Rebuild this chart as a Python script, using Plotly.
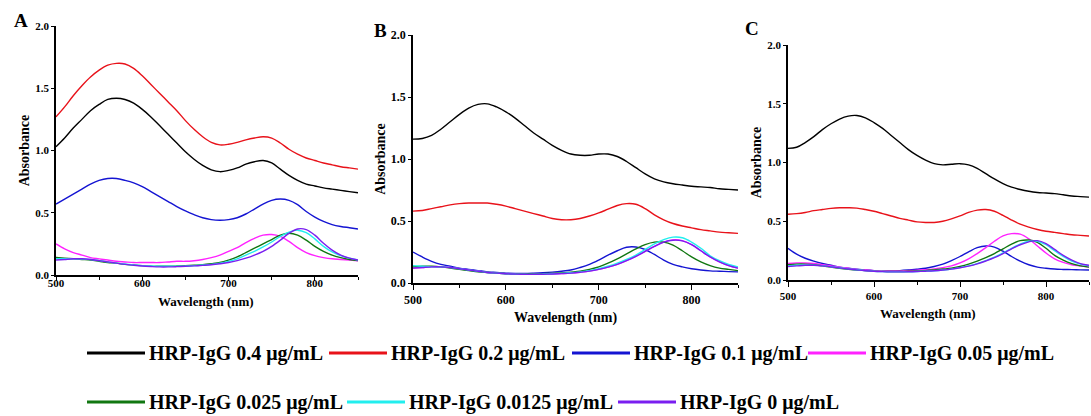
import plotly.graph_objects as go

W, H = 1091, 416

wavelength = list(range(500, 851, 10))

labels = ["HRP-IgG 0.4 μg/mL", "HRP-IgG 0.2 μg/mL", "HRP-IgG 0.1 μg/mL", "HRP-IgG 0.05 μg/mL",
          "HRP-IgG 0.025 μg/mL", "HRP-IgG 0.0125 μg/mL", "HRP-IgG 0 μg/mL"]
colors = ["#000000", "#e8121a", "#1414d2", "#ff22ff", "#117711", "#22eeee", "#7a1ef0"]

# ---------------- Panel A ----------------
A_04 = [1.03, 1.10, 1.18, 1.25, 1.32, 1.37, 1.41, 1.42, 1.41, 1.38, 1.33, 1.27, 1.20, 1.13, 1.06, 0.99, 0.93, 0.88,
        0.845, 0.83, 0.84, 0.86, 0.89, 0.91, 0.92, 0.90, 0.85, 0.80, 0.76, 0.73, 0.715, 0.70, 0.69, 0.68, 0.67, 0.66]
A_02 = [1.27, 1.35, 1.44, 1.52, 1.59, 1.645, 1.685, 1.70, 1.695, 1.66, 1.60, 1.53, 1.46, 1.39, 1.32, 1.24, 1.17, 1.11,
        1.065, 1.045, 1.05, 1.065, 1.085, 1.10, 1.11, 1.10, 1.06, 1.01, 0.97, 0.94, 0.92, 0.90, 0.885, 0.87, 0.86, 0.85]
A_01 = [0.57, 0.61, 0.65, 0.69, 0.73, 0.76, 0.775, 0.775, 0.76, 0.74, 0.71, 0.67, 0.63, 0.59, 0.55, 0.515, 0.485, 0.46,
        0.445, 0.44, 0.445, 0.46, 0.49, 0.53, 0.57, 0.60, 0.61, 0.60, 0.565, 0.51, 0.465, 0.43, 0.405, 0.39, 0.38, 0.37]
A_005 = [0.25, 0.21, 0.18, 0.16, 0.14, 0.13, 0.12, 0.11, 0.105, 0.10, 0.10, 0.10, 0.10, 0.105, 0.11, 0.11, 0.115, 0.125,
         0.14, 0.16, 0.19, 0.22, 0.26, 0.295, 0.32, 0.325, 0.31, 0.27, 0.22, 0.18, 0.155, 0.14, 0.13, 0.125, 0.12, 0.115]
A_0025 = [0.14, 0.135, 0.13, 0.125, 0.12, 0.11, 0.10, 0.095, 0.085, 0.08, 0.075, 0.07, 0.07, 0.07, 0.072, 0.075, 0.078,
          0.082, 0.09, 0.10, 0.12, 0.145, 0.18, 0.215, 0.25, 0.285, 0.32, 0.335, 0.32, 0.28, 0.23, 0.19, 0.16, 0.14, 0.125, 0.115]
A_00125 = [0.13, 0.13, 0.13, 0.128, 0.125, 0.115, 0.105, 0.095, 0.088, 0.08, 0.075, 0.072, 0.07, 0.07, 0.07, 0.072, 0.075,
           0.08, 0.085, 0.095, 0.11, 0.13, 0.16, 0.19, 0.225, 0.265, 0.31, 0.345, 0.36, 0.34, 0.29, 0.23, 0.185, 0.155, 0.135, 0.12]
A_0 = [0.12, 0.125, 0.13, 0.13, 0.125, 0.115, 0.105, 0.095, 0.085, 0.078, 0.072, 0.068, 0.065, 0.065, 0.067, 0.07, 0.073,
       0.077, 0.082, 0.09, 0.10, 0.115, 0.135, 0.16, 0.19, 0.23, 0.28, 0.335, 0.37, 0.365, 0.32, 0.255, 0.20, 0.16, 0.135, 0.12]

# ---------------- Panel B ----------------
B_04 = [1.16, 1.165, 1.19, 1.24, 1.30, 1.36, 1.41, 1.44, 1.445, 1.42, 1.38, 1.33, 1.27, 1.21, 1.16, 1.11, 1.07, 1.04,
        1.03, 1.03, 1.04, 1.04, 1.02, 0.98, 0.93, 0.88, 0.84, 0.815, 0.80, 0.79, 0.78, 0.775, 0.77, 0.76, 0.755, 0.75]
B_02 = [0.58, 0.585, 0.60, 0.615, 0.63, 0.64, 0.645, 0.645, 0.645, 0.635, 0.62, 0.60, 0.58, 0.56, 0.54, 0.52, 0.51, 0.51,
        0.52, 0.54, 0.565, 0.595, 0.625, 0.64, 0.635, 0.60, 0.55, 0.51, 0.48, 0.46, 0.445, 0.43, 0.42, 0.41, 0.405, 0.40]
B_01 = [0.25, 0.21, 0.175, 0.15, 0.135, 0.12, 0.11, 0.10, 0.09, 0.085, 0.08, 0.078, 0.078, 0.08, 0.083, 0.088, 0.095, 0.105,
        0.125, 0.15, 0.185, 0.225, 0.26, 0.288, 0.29, 0.27, 0.23, 0.185, 0.15, 0.13, 0.115, 0.105, 0.098, 0.095, 0.092, 0.09]
B_005 = [0.12, 0.125, 0.13, 0.13, 0.125, 0.115, 0.105, 0.095, 0.085, 0.08, 0.075, 0.072, 0.07, 0.07, 0.071, 0.073, 0.076,
         0.08, 0.087, 0.096, 0.11, 0.128, 0.15, 0.18, 0.215, 0.255, 0.295, 0.33, 0.348, 0.342, 0.31, 0.26, 0.21, 0.17, 0.14, 0.12]
B_0025 = [0.13, 0.135, 0.135, 0.13, 0.12, 0.11, 0.10, 0.09, 0.085, 0.08, 0.075, 0.073, 0.073, 0.074, 0.076, 0.078, 0.082,
          0.088, 0.095, 0.11, 0.13, 0.16, 0.195, 0.235, 0.275, 0.31, 0.33, 0.33, 0.305, 0.26, 0.21, 0.17, 0.14, 0.12, 0.11, 0.10]
B_00125 = [0.14, 0.135, 0.13, 0.13, 0.125, 0.115, 0.105, 0.095, 0.085, 0.08, 0.075, 0.072, 0.07, 0.07, 0.072, 0.075, 0.078,
           0.083, 0.09, 0.10, 0.115, 0.135, 0.16, 0.19, 0.225, 0.27, 0.315, 0.35, 0.37, 0.365, 0.33, 0.28, 0.22, 0.18, 0.15, 0.13]
B_0 = [0.12, 0.125, 0.13, 0.13, 0.125, 0.115, 0.105, 0.095, 0.085, 0.08, 0.075, 0.072, 0.07, 0.07, 0.071, 0.073, 0.076,
       0.08, 0.087, 0.096, 0.11, 0.128, 0.15, 0.18, 0.215, 0.255, 0.295, 0.33, 0.345, 0.34, 0.31, 0.26, 0.21, 0.17, 0.14, 0.12]

# ---------------- Panel C ----------------
C_04 = [1.12, 1.13, 1.17, 1.22, 1.28, 1.33, 1.37, 1.395, 1.40, 1.38, 1.34, 1.29, 1.23, 1.17, 1.11, 1.06, 1.02, 0.99,
        0.98, 0.985, 0.99, 0.98, 0.95, 0.905, 0.86, 0.82, 0.79, 0.77, 0.755, 0.745, 0.74, 0.735, 0.725, 0.715, 0.71, 0.705]
C_02 = [0.56, 0.565, 0.575, 0.59, 0.60, 0.61, 0.615, 0.615, 0.612, 0.60, 0.585, 0.565, 0.545, 0.525, 0.51, 0.495, 0.49,
        0.49, 0.50, 0.52, 0.545, 0.575, 0.595, 0.60, 0.585, 0.55, 0.51, 0.475, 0.45, 0.43, 0.415, 0.405, 0.395, 0.385, 0.38, 0.375]
C_01 = [0.27, 0.22, 0.185, 0.16, 0.14, 0.125, 0.11, 0.10, 0.092, 0.085, 0.08, 0.078, 0.078, 0.08, 0.085, 0.092, 0.10,
        0.115, 0.135, 0.165, 0.20, 0.24, 0.275, 0.29, 0.28, 0.245, 0.20, 0.16, 0.13, 0.11, 0.10, 0.093, 0.09, 0.088, 0.086, 0.085]
C_005 = [0.14, 0.145, 0.145, 0.14, 0.13, 0.12, 0.11, 0.10, 0.09, 0.085, 0.08, 0.078, 0.077, 0.078, 0.08, 0.083, 0.088,
         0.095, 0.105, 0.12, 0.145, 0.18, 0.225, 0.275, 0.33, 0.375, 0.395, 0.39, 0.35, 0.29, 0.23, 0.18, 0.15, 0.13, 0.12, 0.11]
C_0025 = [0.13, 0.135, 0.135, 0.13, 0.12, 0.11, 0.10, 0.092, 0.085, 0.08, 0.075, 0.073, 0.072, 0.072, 0.074, 0.077, 0.08,
          0.086, 0.093, 0.10, 0.115, 0.135, 0.16, 0.19, 0.225, 0.265, 0.305, 0.335, 0.34, 0.32, 0.27, 0.21, 0.17, 0.14, 0.12, 0.11]
C_00125 = [0.12, 0.125, 0.128, 0.127, 0.122, 0.113, 0.104, 0.095, 0.087, 0.08, 0.075, 0.072, 0.07, 0.07, 0.07, 0.072, 0.075,
           0.079, 0.085, 0.093, 0.105, 0.12, 0.14, 0.165, 0.195, 0.23, 0.27, 0.305, 0.33, 0.33, 0.30, 0.25, 0.20, 0.16, 0.135, 0.12]
C_0 = [0.115, 0.12, 0.125, 0.125, 0.12, 0.112, 0.103, 0.094, 0.086, 0.079, 0.074, 0.071, 0.069, 0.069, 0.07, 0.072, 0.075,
       0.079, 0.085, 0.093, 0.104, 0.118, 0.137, 0.162, 0.19, 0.225, 0.265, 0.30, 0.325, 0.335, 0.31, 0.26, 0.21, 0.17, 0.14, 0.125]

panels = [
    ("A", [A_04, A_02, A_01, A_005, A_0025, A_00125, A_0]),
    ("B", [B_04, B_02, B_01, B_005, B_0025, B_00125, B_0]),
    ("C", [C_04, C_02, C_01, C_005, C_0025, C_00125, C_0]),
]

# pixel boxes of the plot areas: (left, right, top, bottom)
boxes = [(56, 358, 26, 275), (413, 738, 35, 283), (788, 1089, 45, 280)]
tick_sizes = [11, 12, 11]
xlabel_standoff = [-7, 0, 0]
xtick_len = [4, 5, 5]
letter_pos = [(21, 20), (380, 31), (752, 29)]
xtitle_pos = [(206, 301, 13), (565, 318, 14), (928, 313, 13)]

FONT = "Liberation Serif, Times New Roman, serif"

def px_x(x):
    return x / W

def px_y(y):
    return 1 - y / H

fig = go.Figure()

for i, (name, series) in enumerate(panels):
    xa = "x" if i == 0 else f"x{i+1}"
    ya = "y" if i == 0 else f"y{i+1}"
    for k, vals in enumerate(series):
        fig.add_trace(go.Scatter(
            x=wavelength, y=vals, mode="lines", name=labels[k],
            line=dict(color=colors[k], width=1.4, shape="spline", smoothing=1.0),
            xaxis=xa, yaxis=ya, showlegend=False))

    l, r, t, b = boxes[i]
    ts = tick_sizes[i]
    xkey = "xaxis" if i == 0 else f"xaxis{i+1}"
    ykey = "yaxis" if i == 0 else f"yaxis{i+1}"
    fig.update_layout(**{
        xkey: dict(
            domain=[px_x(l), px_x(r)], anchor=ya, range=[500, 850], automargin=False,
            tickvals=[500, 600, 700, 800], showline=True, linecolor="black", linewidth=1.5,
            ticks="outside", ticklen=xtick_len[i], tickwidth=1.2, tickcolor="black",
            ticklabelstandoff=xlabel_standoff[i],
            minor=dict(dtick=50, tick0=500, ticks="outside", ticklen=3, tickwidth=1, tickcolor="black"),
            showgrid=False, zeroline=False,
            tickfont=dict(family=FONT, size=ts, color="black", weight="bold"),
        ),
        ykey: dict(
            domain=[px_y(b), px_y(t)], anchor=xa, range=[0, 2.0], automargin=False,
            tickvals=[0, 0.5, 1.0, 1.5, 2.0], tickformat=".1f", showline=True, linecolor="black", linewidth=1.5,
            ticks="outside", ticklen=3, tickwidth=1, tickcolor="black",
            showgrid=False, zeroline=False,
            tickfont=dict(family=FONT, size=ts, color="black", weight="bold"),
            title=dict(text="Absorbance", font=dict(family=FONT, size=14, color="black", weight="bold"), standoff=2),
        ),
    })
    lx, ly = letter_pos[i]
    fig.add_annotation(x=px_x(lx), y=px_y(ly), xref="paper", yref="paper", text=name, showarrow=False,
                       font=dict(family=FONT, size=19, color="black", weight="bold"),
                       xanchor="center", yanchor="middle")
    tx, ty, tsz = xtitle_pos[i]
    fig.add_annotation(x=px_x(tx), y=px_y(ty), xref="paper", yref="paper", text="Wavelength (nm)",
                       showarrow=False, xanchor="center", yanchor="middle",
                       font=dict(family=FONT, size=tsz, color="black", weight="bold"))

# manual legend (long key lines like the original)
legend_rows = [(353, [0, 1, 2, 3], [87, 329, 572, 808]), (402, [4, 5, 6], [87, 347, 618])]
for yrow, idxs, xs in legend_rows:
    for k, x0 in zip(idxs, xs):
        fig.add_shape(type="line", xref="paper", yref="paper",
                      x0=px_x(x0), x1=px_x(x0 + 58), y0=px_y(yrow), y1=px_y(yrow),
                      line=dict(color=colors[k], width=3))
        fig.add_annotation(x=px_x(x0 + 60), y=px_y(yrow), xref="paper", yref="paper", text=labels[k],
                           showarrow=False, xanchor="left", yanchor="middle",
                           font=dict(family=FONT, size=20, color="black", weight="bold"))

fig.update_layout(width=W, height=H, margin=dict(l=0, r=0, t=0, b=0, autoexpand=False),
                  paper_bgcolor="white", plot_bgcolor="white", showlegend=False)

fig.write_html("out.html", config={"displayModeBar": False},
               post_script="document.body.style.margin='0px';document.body.style.overflow='hidden';")
